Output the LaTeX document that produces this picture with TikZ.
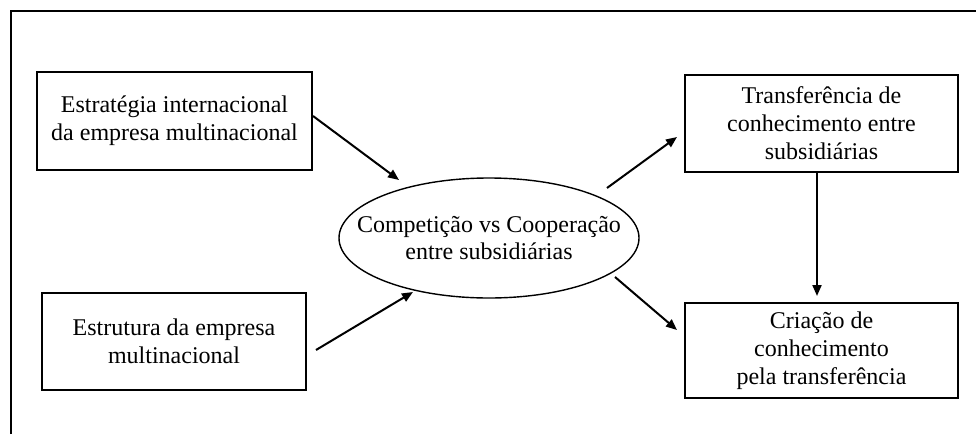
\documentclass[tikz,border=0pt]{standalone}
\usepackage{fontspec}
\setmainfont{Liberation Serif}
\usetikzlibrary{arrows.meta,shapes.geometric}
\begin{document}
\begin{tikzpicture}[x=1pt,y=-1pt,
  txt/.style={align=center,inner sep=0pt,font=\fontsize{24}{28}\selectfont},
  box/.style={txt,draw,line width=2.1pt},
  ell/.style={draw,ellipse,line width=1.4pt,minimum width=300pt,minimum height=120pt,inner sep=0pt},
  arr/.style={line width=2pt,-{Triangle[length=11pt,width=9pt]}},
  frame/.style={line width=1.6pt}]
\useasboundingbox (0,0) rectangle (976,434);
% outer frame (top and left sides)
\coordinate (fbl) at (11,434);
\coordinate (ftl) at (11,11);
\coordinate (ftr) at (976,11);
\draw[frame] (fbl) -- (ftl) -- (ftr);
% nodes
\node[box,minimum width=275pt,minimum height=98pt] (b1) at (174.5,121) {Estratégia internacional\\da empresa multinacional};
\node[box,minimum width=264pt,minimum height=97pt] (b2) at (174,341.5) {Estrutura da empresa\\multinacional};
\node[box,minimum width=273pt,minimum height=97pt] (b3) at (821.5,123.5) {Transferência de\\conhecimento entre\\subsidiárias};
\node[box,minimum width=273pt,minimum height=95pt] (b4) at (821.5,350.5) {Criação de\\conhecimento\\pela transferência};
\node[ell] (e) at (489,238) {};
\node[txt,font=\fontsize{24}{27}\selectfont] (et) at (e.center) {Competição vs Cooperação\\entre subsidiárias};
% connector ends
\coordinate (a1s) at (313,116);
\coordinate (a1e) at (399,180);
\coordinate (a2s) at (316,350);
\coordinate (a2e) at (413,292);
\coordinate (a3s) at (607,188);
\coordinate (a3e) at (677,137);
\coordinate (a4s) at (615,277);
\coordinate (a4e) at (677,330);
\coordinate (a5s) at (817,173);
\coordinate (a5e) at (817,296);
% connectors
\draw[arr] (a1s) -- (a1e);
\draw[arr] (a2s) -- (a2e);
\draw[arr] (a3s) -- (a3e);
\draw[arr] (a4s) -- (a4e);
\draw[arr] (a5s) -- (a5e);
\end{tikzpicture}
\end{document}
